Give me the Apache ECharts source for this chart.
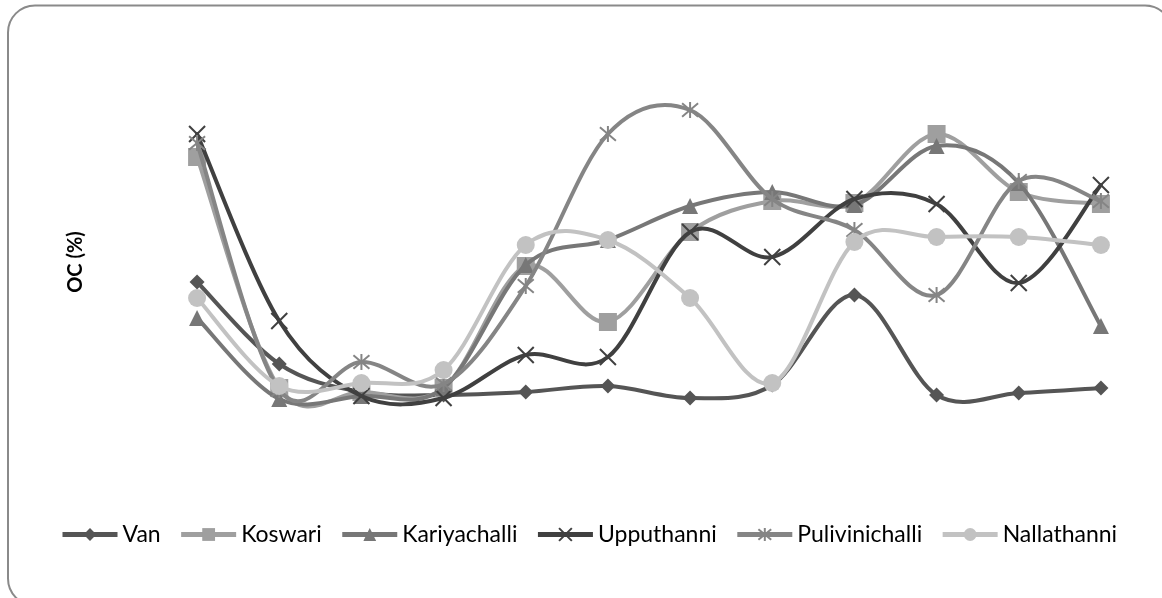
<!DOCTYPE html>
<html>
<head>
<meta charset="utf-8">
<script src="https://cdn.jsdelivr.net/npm/echarts@6/dist/echarts.min.js"></script>
<style>
  html, body { margin: 0; padding: 0; background: #fff; overflow: hidden; }
  #chart { width: 1162px; height: 598px; }
</style>
</head>
<body>
<div id="chart"></div>
<script>
// Sampling points along the horizontal axis (unlabelled)
const categories = ['1', '2', '3', '4', '5', '6', '7', '8', '9', '10', '11', '12'];

// Organic carbon (%) per site
const van            = [1.48, 0.66, 0.38, 0.35, 0.38, 0.44, 0.32, 0.45, 1.35, 0.35, 0.37, 0.42];
const koswari        = [2.73, 0.42, 0.38, 0.42, 1.64, 1.08, 1.98, 2.29, 2.27, 2.96, 2.38, 2.26];
const kariyachalli   = [1.12, 0.31, 0.34, 0.42, 1.65, 1.90, 2.24, 2.38, 2.25, 2.84, 2.47, 1.04];
const upputhanni     = [2.96, 1.09, 0.34, 0.32, 0.75, 0.73, 1.98, 1.73, 2.31, 2.26, 1.47, 2.45];
const pulivinichalli = [2.87, 0.40, 0.68, 0.46, 1.44, 2.96, 3.20, 2.31, 2.00, 1.35, 2.49, 2.29];
const nallathanni    = [1.32, 0.44, 0.47, 0.60, 1.85, 1.90, 1.32, 0.47, 1.88, 1.93, 1.93, 1.85];

const seriesNames = ['Van', 'Koswari', 'Kariyachalli', 'Upputhanni', 'Pulivinichalli', 'Nallathanni'];

const crossPath = 'path://M0,0L10,10M10,0L0,10';
const starPath = 'path://M0,0L10,10M10,0L0,10M5,-1L5,11';

const FONT = 'Lato, "Open Sans", sans-serif';

// Each site: values, colour, marker
const sites = [
  { name: 'Van',            values: van,            color: '#555555', symbol: 'diamond',  size: 15, stroked: false },
  { name: 'Koswari',        values: koswari,        color: '#9f9f9f', symbol: 'rect',     size: 18, stroked: false },
  { name: 'Kariyachalli',   values: kariyachalli,   color: '#777777', symbol: 'triangle', size: 16, stroked: false },
  { name: 'Upputhanni',     values: upputhanni,     color: '#404040', symbol: crossPath,  size: 16, stroked: true },
  { name: 'Pulivinichalli', values: pulivinichalli, color: '#858585', symbol: starPath,   size: 16, stroked: true },
  { name: 'Nallathanni',    values: nallathanni,    color: '#c2c2c2', symbol: 'circle',   size: 18, stroked: false }
];

// Cardinal (Catmull-Rom) curve through the points, one bezier per segment
function smoothCurve(values, color) {
  return function (params, api) {
    const i = params.dataIndex;
    const n = values.length;
    if (i >= n - 1) return null;
    const p = (k) => api.coord([Math.max(0, Math.min(n - 1, k)), values[Math.max(0, Math.min(n - 1, k))]]);
    const p0 = p(i - 1), p1 = p(i), p2 = p(i + 1), p3 = p(i + 2);
    const t = 1 / 6;
    const c1 = [p1[0] + (p2[0] - p0[0]) * t, p1[1] + (p2[1] - p0[1]) * t];
    const c2 = [p2[0] - (p3[0] - p1[0]) * t, p2[1] - (p3[1] - p1[1]) * t];
    return {
      type: 'bezierCurve',
      shape: { x1: p1[0], y1: p1[1], cpx1: c1[0], cpy1: c1[1], cpx2: c2[0], cpy2: c2[1], x2: p2[0], y2: p2[1] },
      style: { stroke: color, lineWidth: 4, fill: null, lineCap: 'round' },
      silent: true
    };
  };
}

const series = [];
// Marker series first so the legend takes its icon from them
sites.forEach(function (s, k) {
  series.push({
    name: s.name,
    type: 'line',
    data: s.values,
    z: 3 + k * 2,
    symbol: s.symbol,
    symbolSize: s.size,
    showAllSymbol: true,
    lineStyle: { color: s.color, width: 4, opacity: 0 },
    itemStyle: s.stroked
      ? { color: 'rgba(0,0,0,0)', borderColor: s.color, borderWidth: 2 }
      : { color: s.color, borderWidth: 0 },
    emphasis: { disabled: true },
    animation: false
  });
});
sites.forEach(function (s, k) {
  series.push({
    name: s.name,
    type: 'custom',
    z: 2 + k * 2,
    data: s.values.map(function (v, i) { return [i, v]; }),
    encode: { x: 0, y: 1 },
    renderItem: smoothCurve(s.values, s.color),
    animation: false
  });
});

const chart = echarts.init(document.getElementById('chart'), null, { renderer: 'canvas' });

chart.setOption({
  backgroundColor: '#ffffff',
  animation: false,
  textStyle: { fontFamily: FONT },
  graphic: [{
    type: 'rect',
    shape: { x: 8, y: 5.5, width: 1164, height: 600, r: 27 },
    style: { fill: 'none', stroke: '#8a8a8a', lineWidth: 2 },
    silent: true,
    z: -1
  }],
  grid: { left: 156, right: 20, top: 80, bottom: 154 },
  legend: {
    data: seriesNames,
    left: 55,
    top: 518,
    itemWidth: 55,
    itemHeight: 16,
    itemGap: 18,
    lineStyle: { width: 5, opacity: 1 },
    textStyle: { color: '#000', fontSize: 23, fontFamily: FONT }
  },
  xAxis: {
    type: 'category',
    data: categories,
    boundaryGap: true,
    axisLine: { show: false },
    axisTick: { show: false },
    axisLabel: { show: false },
    splitLine: { show: false }
  },
  yAxis: {
    type: 'value',
    min: -0.14,
    max: 3.5,
    name: 'OC (%)',
    nameLocation: 'middle',
    nameGap: 70,
    nameTextStyle: { color: '#000', fontSize: 20, fontWeight: 'bold', fontFamily: FONT },
    axisLine: { show: false },
    axisTick: { show: false },
    axisLabel: { show: false },
    splitLine: { show: false }
  },
  series: series
});
</script>
</body>
</html>
